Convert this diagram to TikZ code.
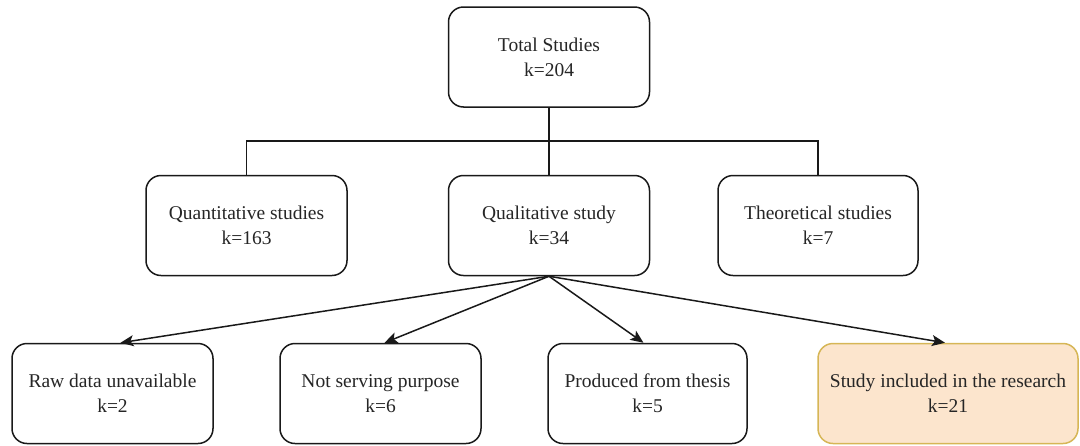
\documentclass[tikz,border=0pt]{standalone}
\usepackage{fontspec}
\setmainfont{Liberation Serif}
\usetikzlibrary{arrows.meta}
\definecolor{incfill}{HTML}{FCE5CD}
\definecolor{incdraw}{HTML}{D6B656}
\definecolor{txt}{HTML}{262626}
\tikzset{
  box/.style={draw=black!90, line width=1.5pt, rounded corners=15pt, fill=white,
    minimum width=201pt, minimum height=100pt, align=center, text=txt,
    font=\fontsize{19.5}{25}\selectfont, inner sep=0pt},
  incbox/.style={box, draw=incdraw, fill=incfill, minimum width=260pt},
  conn/.style={draw=black!90, line width=1.5pt},
  arr/.style={conn, -{Stealth[length=13pt,width=11pt,inset=3pt]}}
}
\begin{document}
\begin{tikzpicture}[x=1pt,y=-1pt]
\useasboundingbox (0,0) rectangle (1080,445);
\node[box] (total) at (549,57) {Total Studies\\k=204};
\node[box] (quant) at (246.5,225.5) {Quantitative studies\\k=163};
\node[box] (qual) at (549,225.5) {Qualitative study\\k=34};
\node[box, minimum width=200pt] (theo) at (818,225.5) {Theoretical studies\\k=7};
\node[box] (raw) at (112.5,393.5) {Raw data unavailable\\k=2};
\node[box] (notserv) at (380.5,393.5) {Not serving purpose\\k=6};
\node[box, minimum width=199pt] (prod) at (647.5,393.5) {Produced from thesis\\k=5};
\node[incbox] (incl) at (948,393.5) {Study included in the research\\k=21};
\coordinate (junc) at (549,141);
\draw[conn] (total.south) -- (junc);
\draw[conn] (quant.north) |- (junc) -| (theo.north);
\draw[conn] (junc) -- (qual.north);
\draw[arr] (qual.south) -- ([xshift=8pt]raw.north);
\draw[arr] (qual.south) -- ([xshift=4pt]notserv.north);
\draw[arr] (qual.south) -- ([xshift=-4pt]prod.north);
\draw[arr] (qual.south) -- ([xshift=-3pt]incl.north);
\end{tikzpicture}
\end{document}
